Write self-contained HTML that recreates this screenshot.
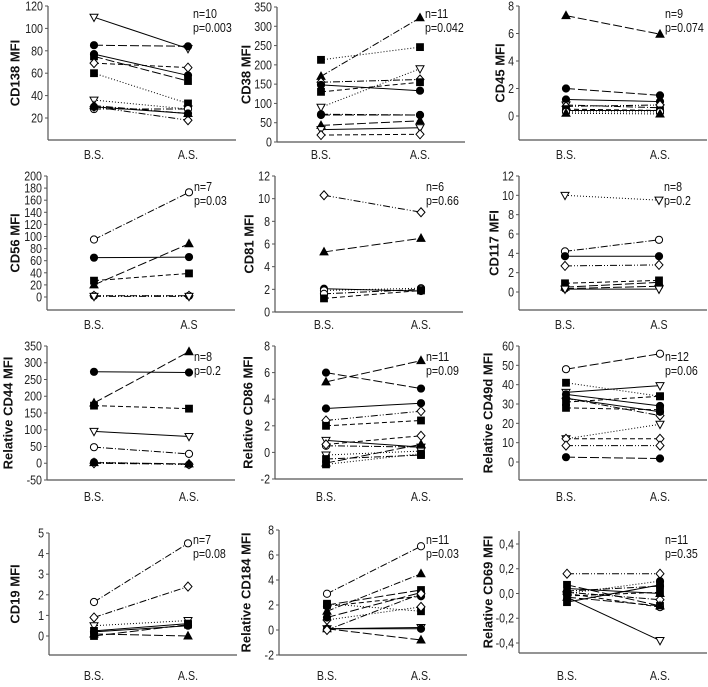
<!DOCTYPE html>
<html><head><meta charset="utf-8">
<style>
html,body{margin:0;padding:0;background:#fff;}
svg{display:block;font-family:"Liberation Sans",sans-serif;}
.tick{font-size:13px;fill:#222;}
.ttl{font-family:"Liberation Sans",sans-serif;font-size:13px;font-weight:bold;fill:#111;}
.np{font-size:13px;fill:#111;}
</style></head>
<body>
<svg id="fig" width="708" height="687" viewBox="0 0 708 687" xmlns="http://www.w3.org/2000/svg"></svg>
<script>
// ---- data (before / after surgery values per patient) ----
const categories = ["B.S.", "A.S."];
const cd138Before = [110, 85, 77, 75, 69, 60, 36, 31, 28, 30, 30];
const cd138After  = [82, 84, 58, 53, 65, 33, 28, 24, 28, 18, 24];
const cd138Marks  = ["ot","fc","fc","fs","od","fs","ot","ft","oc","od","fc"];
const cd138Lines  = ["S","L","S","L","D","O","O","DD","DD","DDD","S"];

const cd38Before = [170, 213, 90, 155, 148, 130, 72, 70, 43, 32, 18];
const cd38After  = [322, 246, 190, 162, 133, 155, 70, 70, 55, 37, 20];
const cd38Marks  = ["ft","fs","ot","od","fc","fs","fc","fc","ft","ot","od"];
const cd38Lines  = ["DD","O","O","DD","S","D","DD","L","L","S","D"];

const cd45Before = [7.3, 2.0, 1.2, 0.8, 0.7, 0.5, 0.4, 0.3, 0.2];
const cd45After  = [5.95, 1.5, 1.05, 0.6, 0.8, 0.4, 0.4, 0.3, 0.15];
const cd45Marks  = ["ft","fc","fc","ot","od","fs","fc","oc","ft"];
const cd45Lines  = ["L","L","S","DD","DDD","D","S","O","O"];

const cd56Before = [95, 65, 20, 27, 2, 2, 1];
const cd56After  = [173, 66, 88, 39, 2, 2, 1];
const cd56Marks  = ["oc","fc","ft","fs","fc","od","ot"];
const cd56Lines  = ["DD","S","L","D","O","DD","DDD"];

const cd81Before = [10.3, 5.3, 2.05, 1.9, 1.6, 1.2];
const cd81After  = [8.8, 6.5, 1.85, 2.1, 2.0, 1.9];
const cd81Marks  = ["od","ft","fc","oc","oc","fs"];
const cd81Lines  = ["DDD","L","S","O","DD","D"];

const cd117Before = [10, 4.2, 3.7, 2.7, 0.9, 0.5, 0.35, 0.3];
const cd117After  = [9.5, 5.4, 3.7, 2.8, 1.2, 1.0, 0.6, 0.3];
const cd117Marks  = ["ot","oc","fc","od","fs","ft","fc","ot"];
const cd117Lines  = ["O","DD","S","DDD","D","L","L","S"];

const cd44Before = [180, 273, 172, 95, 48, 3, 0, 2];
const cd44After  = [333, 271, 163, 80, 28, -4, -3, -2];
const cd44Marks  = ["ft","fc","fs","ot","oc","fc","od","ft"];
const cd44Lines  = ["L","S","D","S","DD","O","DD","L"];

const cd86Before = [5.3, 6.0, 3.3, 2.4, 2.0, 0.9, 0.5, 0.6, -0.2, -0.5, -0.8, -0.9];
const cd86After  = [6.9, 4.8, 3.7, 3.1, 2.4, 0.4, 0.4, 1.25, 0.1, -0.2, 0.6, -0.1];
const cd86Marks  = ["ft","fc","fc","od","fs","ot","oc","od","ot","fs","ft","fs"];
const cd86Lines  = ["L","L","S","DDD","D","S","DD","D","O","DD","L","O"];

const cd49dBefore = [48, 41, 36, 35, 33, 33, 31, 28, 12, 12, 8.5, 2.5];
const cd49dAfter  = [56, 34, 39.5, 29, 24, 26, 34, 27, 19.5, 12, 8.5, 1.8];
const cd49dMarks  = ["oc","fs","ot","fc","od","fc","fs","fs","ot","od","od","fc"];
const cd49dLines  = ["L","O","S","S","DD","S","D","D","O","D","DDD","L"];

const cd19Before = [1.65, 0.9, 0.5, 0.25, 0.2, 0.1, 0.0];
const cd19After  = [4.5, 2.4, 0.75, 0.6, 0.5, 0.0, 0.55];
const cd19Marks  = ["oc","od","ot","fs","fc","ft","fs"];
const cd19Lines  = ["DD","DD","O","S","S","L","L"];

const cd184Before = [2.9, 1.5, 2.0, 1.9, 2.1, 0.8, 1.0, 0.1, 0.1, 0.1, 0.0];
const cd184After  = [6.7, 4.5, 3.2, 2.7, 1.5, 1.85, 3.0, 0.2, 0.1, -0.8, 2.9];
const cd184Marks  = ["oc","ft","fs","fc","fs","od","fc","ot","fc","ft","od"];
const cd184Lines  = ["DD","DD","L","D","O","O","L","S","S","L","DD"];

const cd69Before = [0.16, -0.03, 0.07, -0.07, 0.0, 0.0, 0.01, 0.04, -0.02, 0.02, -0.03];
const cd69After  = [0.16, -0.38, -0.1, 0.07, 0.1, -0.11, -0.05, 0.0, 0.01, 0.06, -0.1];
const cd69Marks  = ["od","ot","fs","fs","fc","oc","od","ft","fs","fc","ft"];
const cd69Lines  = ["DDD","S","L","S","O","D","DD","S","D","DD","L"];

const panelTitles = ["CD138 MFI","CD38 MFI","CD45 MFI","CD56 MFI","CD81 MFI","CD117 MFI",
  "Relative CD44 MFI","Relative CD86 MFI","Relative CD49d MFI","CD19 MFI","Relative CD184 MFI","Relative CD69 MFI"];
const panelN = ["n=10","n=11","n=9","n=7","n=6","n=8","n=8","n=11","n=12","n=7","n=11","n=11"];
const panelP = ["p=0.003","p=0.042","p=0.074","p=0.03","p=0.66","p=0.2","p=0.2","p=0.09","p=0.06","p=0.08","p=0.03","p=0.35"];
const tickLabels = [
  ["20","40","60","80","100","120"],
  ["0","50","100","150","200","250","300","350"],
  ["0","2","4","6","8"],
  ["0","20","40","60","80","100","120","140","160","180","200"],
  ["0","2","4","6","8","10","12"],
  ["0","2","4","6","8","10","12"],
  ["-50","0","50","100","150","200","250","300","350"],
  ["-2","0","2","4","6","8"],
  ["0","10","20","30","40","50","60"],
  ["0","1","2","3","4","5"],
  ["-2","0","2","4","6","8"],
  ["-0,4","-0,2","0,0","0,2","0,4"]
];

// ---- layout (pixel geometry) ----
const layout = [
  {ax:48, bs:94, as:188, lo:20, loPx:118, hi:120, hiPx:6, top:6, bot:140, tx:15, ny:18, xl:159},
  {ax:277,bs:321,as:420, lo:0, loPx:142, hi:350, hiPx:7, top:7, bot:142, tx:246, ny:18, xl:159},
  {ax:519,bs:566,as:660, lo:0, loPx:116, hi:8, hiPx:6, top:6, bot:140, tx:500, ny:18, xl:159},
  {ax:47, bs:94, as:189, lo:0, loPx:297, hi:200, hiPx:176, top:176, bot:310, tx:15, ny:191, xl:329},
  {ax:275,bs:324,as:421, lo:0, loPx:312, hi:12, hiPx:176, top:176, bot:312, tx:249, ny:191, xl:329},
  {ax:519,bs:565,as:659, lo:0, loPx:292, hi:12, hiPx:176, top:176, bot:310, tx:494, ny:191, xl:329},
  {ax:47, bs:94, as:189, lo:-50, loPx:480, hi:350, hiPx:346, top:346, bot:480, tx:8, ny:361, xl:501},
  {ax:275,bs:326,as:421, lo:-2, loPx:479, hi:8, hiPx:346, top:346, bot:479, tx:248, ny:361, xl:501},
  {ax:519,bs:566,as:660, lo:0, loPx:462, hi:60, hiPx:346, top:346, bot:480, tx:488, ny:361, xl:501},
  {ax:49, bs:94, as:188, lo:0, loPx:636, hi:5, hiPx:533, top:533, bot:655, tx:15, ny:544, xl:680},
  {ax:279,bs:327,as:421, lo:-2, loPx:655, hi:8, hiPx:530, top:530, bot:655, tx:246, ny:544, xl:680},
  {ax:519,bs:567,as:660, lo:-0.4, loPx:643, hi:0.4, hiPx:544, top:531, bot:653, tx:488, ny:544, xl:680}
];
const seriesSets = [
  [cd138Before,cd138After,cd138Marks,cd138Lines],
  [cd38Before,cd38After,cd38Marks,cd38Lines],
  [cd45Before,cd45After,cd45Marks,cd45Lines],
  [cd56Before,cd56After,cd56Marks,cd56Lines],
  [cd81Before,cd81After,cd81Marks,cd81Lines],
  [cd117Before,cd117After,cd117Marks,cd117Lines],
  [cd44Before,cd44After,cd44Marks,cd44Lines],
  [cd86Before,cd86After,cd86Marks,cd86Lines],
  [cd49dBefore,cd49dAfter,cd49dMarks,cd49dLines],
  [cd19Before,cd19After,cd19Marks,cd19Lines],
  [cd184Before,cd184After,cd184Marks,cd184Lines],
  [cd69Before,cd69After,cd69Marks,cd69Lines]
];
const dashMap = {S:"", L:"9,3", D:"5,3", O:"1,2", DD:"7,2,1,2", DDD:"7,2,1,2,1,2"};
const SX = 0.82; // horizontal condensing of narrow font

const NS = "http://www.w3.org/2000/svg";
const svg = document.getElementById("fig");
function mk(tag, attrs, parent){
  const e = document.createElementNS(NS, tag);
  for (const k in attrs) e.setAttribute(k, attrs[k]);
  parent.appendChild(e);
  return e;
}
function slug(t){return t.toLowerCase().replace(/[^a-z0-9]+/g,"-").replace(/-+$/,"");}
function ntext(parent, x, y, anchor, cls, str){
  return mk("text", {x:x/SX, y:y, "text-anchor":anchor, class:cls, transform:`scale(${SX},1)`}, parent);
}

function drawMarker(g, kind, x, y){
  const filled = kind[0] === "f";
  const fill = filled ? "#000" : "#fff";
  const st = {fill:fill, stroke:"#000", "stroke-width":1};
  let m;
  const t = kind[1];
  if (t === "c") m = mk("circle", Object.assign({cx:x, cy:y, r:3.6}, st), g);
  else if (t === "s") m = mk("rect", Object.assign({x:x-3.4, y:y-3.4, width:6.8, height:6.8}, st), g);
  else if (t === "d") m = mk("polygon", Object.assign({points:`${x},${y-4.5} ${x+4},${y} ${x},${y+4.5} ${x-4},${y}`}, st), g);
  else if (kind === "ft") m = mk("polygon", Object.assign({points:`${x},${y-4.3} ${x+4},${y+3} ${x-4},${y+3}`}, st), g);
  else m = mk("polygon", Object.assign({points:`${x-4},${y-3} ${x+4},${y-3} ${x},${y+4.3}`}, st), g);
  
  
}

layout.forEach((L, i) => {
  const name = slug(panelTitles[i]);
  const g = mk("g", {}, svg);
  
  
  const yS = v => L.loPx + (v - L.lo) * (L.hiPx - L.loPx) / (L.hi - L.lo);
  const xS = c => c === 0 ? L.bs : L.as;
  const right = L.ax + 188;

  const ya = mk("line", {x1:L.ax, y1:L.top, x2:L.ax, y2:L.bot, stroke:"#555", "stroke-width":1.2}, g);
  
  
  const xa = mk("line", {x1:L.ax, y1:L.bot, x2:right, y2:L.bot, stroke:"#555", "stroke-width":1.2}, g);
  
  

  tickLabels[i].forEach(lbl => {
    const v = parseFloat(lbl.replace(",", "."));
    const y = yS(v);
    mk("line", {x1:L.ax-3, y1:y, x2:L.ax, y2:y, stroke:"#555", "stroke-width":1}, g);
    const t = ntext(g, L.ax-5, y+4.5, "end", "tick");
    t.textContent = lbl;
    
    
  });

  categories.forEach((c, ci) => {
    const lab = (i === 3 || i === 5) && ci === 1 ? "A.S" : c;
    const t = ntext(g, xS(ci), L.xl, "middle", "tick");
    t.textContent = lab;
    
    
  });

  const cy = (L.top + L.bot) / 2;
  const tt = mk("text", {x:L.tx, y:cy, "text-anchor":"middle", class:"ttl", transform:`rotate(-90 ${L.tx} ${cy})`, dy:"4.5"}, g);
  tt.textContent = panelTitles[i];
  
  

  const n = ntext(g, L.as+5, L.ny, "start", "np");
  n.textContent = panelN[i];
  
  
  const p = ntext(g, L.as+5, L.ny+14, "start", "np");
  p.textContent = panelP[i];
  
  

  const [bef, aft, marks, lines] = seriesSets[i];
  bef.forEach((b, k) => {
    const ln = mk("line", {x1:xS(0), y1:yS(b), x2:xS(1), y2:yS(aft[k]), stroke:"#000", "stroke-width":1}, g);
    if (dashMap[lines[k]]) ln.setAttribute("stroke-dasharray", dashMap[lines[k]]);
    
    
  });
  bef.forEach((b, k) => {
    drawMarker(g, marks[k], xS(0), yS(b));
    drawMarker(g, marks[k], xS(1), yS(aft[k]));
  });
});
</script>
</body></html>
